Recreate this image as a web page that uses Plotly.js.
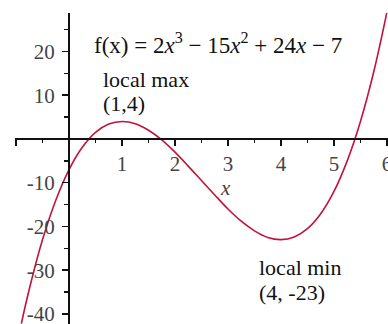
<!DOCTYPE html>
<html>
<head>
<meta charset="utf-8">
<script src="https://cdn.plot.ly/plotly-3.0.1.min.js"></script>
<style>
  html, body { margin: 0; padding: 0; background: #fff; }
  #plot { width: 388px; height: 324px; }
</style>
</head>
<body>
<div id="plot"></div>
<script>
// values
const xs = [-0.9, -0.75, -0.5, -0.25, 0, 0.25, 0.5, 0.75, 1, 1.25, 1.5, 1.75, 2, 2.25, 2.5, 2.75,
            3, 3.25, 3.5, 3.75, 4, 4.25, 4.5, 4.75, 5, 5.25, 5.5, 5.75, 6];
const ys = [-42.2, -34.3, -23, -14, -7, -1.9, 1.5, 3.4, 4, 3.5, 2, -0.2, -3, -6.2, -9.5, -12.8,
            -16, -18.8, -21, -22.5, -23, -22.4, -20.5, -17.1, -12, -5, 4, 15.3, 29];

const xTickVals = [-1, 0, 1, 2, 3, 4, 5, 6];
const xTickText = ['', '', '1', '2', '3', '4', '5', '6'];
const yTickVals = [-40, -30, -20, -10, 0, 10, 20];
const yTickText = ['-40', '-30', '-20', '-10', '', '10', '20'];

const serif = 'Liberation Serif';

const trace = {
    type: 'scatter',
    mode: 'lines',
    x: xs,
    y: ys,
    line: { color: '#c0143c', width: 1.6, shape: 'spline' },
    hoverinfo: 'skip'
};

const layout = {
    width: 388,
    height: 324,
    margin: { l: 15, r: 0, t: 13, b: 0 },
    paper_bgcolor: '#fff',
    plot_bgcolor: '#fff',
    showlegend: false,
    font: { family: serif, color: '#444', size: 21 },
    xaxis: {
        range: [-1.02, 6.02],
        anchor: 'free',
        position: 0.595,
        showgrid: false,
        zeroline: false,
        showline: true,
        linecolor: '#111',
        linewidth: 2,
        tickmode: 'array',
        tickvals: xTickVals,
        ticktext: xTickText,
        ticks: 'outside',
        ticklen: 6,
        tickwidth: 1.5,
        tickcolor: '#111',
        ticklabeloverflow: 'allow',
        minor: { tickmode: 'linear', tick0: 0, dtick: 0.5, ticks: 'outside', ticklen: 3, tickwidth: 1.5, tickcolor: '#111' },
        tickfont: { family: serif, size: 21, color: '#444' }
    },
    yaxis: {
        range: [-42.3, 28.8],
        anchor: 'free',
        position: 0.1449,
        showgrid: false,
        zeroline: false,
        showline: true,
        linecolor: '#111',
        linewidth: 2,
        tickmode: 'array',
        tickvals: yTickVals,
        ticktext: yTickText,
        ticks: 'outside',
        ticklen: 6,
        tickwidth: 1.5,
        tickcolor: '#111',
        ticklabeloverflow: 'allow',
        ticklabelstandoff: 3,
        minor: { tickmode: 'linear', tick0: 0, dtick: 5, ticks: 'outside', ticklen: 4, tickwidth: 1.5, tickcolor: '#111' },
        tickfont: { family: serif, size: 21, color: '#444' }
    },
    annotations: [
        {
            xref: 'x', yref: 'y', x: 0.43, y: 21.9, xanchor: 'left', yanchor: 'middle',
            text: 'f(x) = 2<i>x</i><sup>3</sup> \u2212 15<i>x</i><sup>2</sup> + 24<i>x</i> \u2212 7',
            showarrow: false, font: { family: serif, size: 23, color: '#111' }
        },
        {
            xref: 'x', yref: 'y', x: 0.6, y: 13.5, xanchor: 'left', yanchor: 'middle',
            text: 'local max', showarrow: false, font: { family: serif, size: 22, color: '#111' }
        },
        {
            xref: 'x', yref: 'y', x: 0.6, y: 8.2, xanchor: 'left', yanchor: 'middle',
            text: '(1,4)', showarrow: false, font: { family: serif, size: 22, color: '#111' }
        },
        {
            xref: 'x', yref: 'y', x: 3.55, y: -29.3, xanchor: 'left', yanchor: 'middle',
            text: 'local min', showarrow: false, font: { family: serif, size: 22, color: '#111' }
        },
        {
            xref: 'x', yref: 'y', x: 3.55, y: -35, xanchor: 'left', yanchor: 'middle',
            text: '(4, -23)', showarrow: false, font: { family: serif, size: 22, color: '#111' }
        },
        {
            xref: 'x', yref: 'y', x: 2.96, y: -11.2, xanchor: 'center', yanchor: 'middle',
            text: '<i>x</i>', showarrow: false, font: { family: serif, size: 21, color: '#444' }
        }
    ]
};

Plotly.newPlot('plot', [trace], layout, { staticPlot: true, displayModeBar: false });
</script>
</body>
</html>
